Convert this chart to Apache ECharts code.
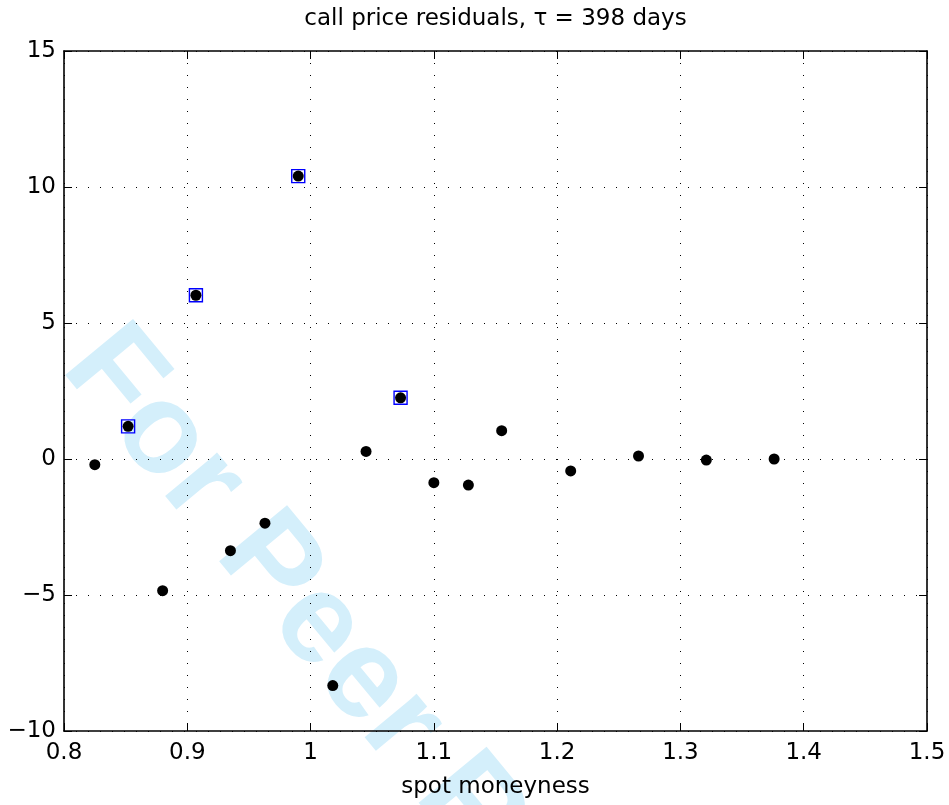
<!DOCTYPE html>
<html>
<head>
<meta charset="utf-8">
<script src="https://cdn.jsdelivr.net/npm/echarts@6/dist/echarts.min.js"></script>
<style>
  html, body { margin: 0; padding: 0; background: #fff; }
  #chart { width: 949px; height: 805px; }
</style>
</head>
<body>
<div id="chart"></div>
<script>
// ---- data ----
const moneyness = [0.825, 0.852, 0.880, 0.907, 0.935, 0.963, 0.990, 1.018, 1.045, 1.073, 1.100, 1.128, 1.155, 1.211, 1.266, 1.321, 1.376];
const residual  = [-0.21, 1.20, -4.84, 6.02, -3.37, -2.36, 10.40, -8.33, 0.28, 2.25, -0.87, -0.96, 1.04, -0.44, 0.11, -0.04, 0.00];
const flaggedIdx = [1, 3, 6, 9];   // points marked with blue squares
const xTicks = [0.8, 0.9, 1.0, 1.1, 1.2, 1.3, 1.4, 1.5];
const yTicks = [-10, -5, 0, 5, 10, 15];
const titleText = 'call price residuals, \u03c4 = 398 days';
const xLabel = 'spot moneyness';
const watermarkText = 'For Peer Review';

const FONT = 'DejaVu Sans';
const allPts = moneyness.map((x, i) => [x, residual[i]]);
const flaggedPts = flaggedIdx.map(i => [moneyness[i], residual[i]]);

const fmtX = v => String(Math.round(v * 10) / 10);
const fmtY = v => String(Math.round(v)).replace('-', '\u2212');

const chart = echarts.init(document.getElementById('chart'), null, { renderer: 'canvas' });

const tickStyle = { show: true, inside: true, length: 8, lineStyle: { color: '#000', width: 1 } };
const axisLineStyle = { show: true, onZero: false, lineStyle: { color: '#000', width: 1.6 } };
const gridLineStyle = { show: true, lineStyle: { color: '#000', width: 1, type: [1, 11] } };

chart.setOption({
  backgroundColor: '#ffffff',
  animation: false,
  title: {
    text: titleText,
    left: 495.5,
    textAlign: 'center',
    top: 8,
    padding: 0,
    textStyle: { fontFamily: FONT, fontSize: 23, fontWeight: 'normal', color: '#000' }
  },
  graphic: {
    elements: [{
      type: 'text',
      z: -10,
      x: 87, y: 346,
      rotation: -0.88,
      style: {
        text: watermarkText,
        font: 'bold 128px "Liberation Sans", Arial, sans-serif',
        fill: '#d4effb',
        textAlign: 'left',
        textVerticalAlign: 'middle'
      }
    }]
  },
  grid: { left: 64, right: 22, top: 51, bottom: 74, show: false, containLabel: false },
  xAxis: [{
    type: 'value', position: 'bottom',
    min: xTicks[0], max: xTicks[xTicks.length - 1], interval: 0.1,
    axisLine: axisLineStyle,
    axisTick: tickStyle,
    axisLabel: { formatter: fmtX, margin: 11, fontFamily: FONT, fontSize: 23, color: '#000', showMinLabel: true, showMaxLabel: true },
    splitLine: gridLineStyle,
    name: xLabel, nameLocation: 'middle', nameGap: 45,
    nameTextStyle: { fontFamily: FONT, fontSize: 23, color: '#000' }
  }, {
    type: 'value', position: 'top',
    min: xTicks[0], max: xTicks[xTicks.length - 1], interval: 0.1,
    axisLine: axisLineStyle,
    axisTick: tickStyle,
    axisLabel: { show: false },
    splitLine: { show: false }
  }],
  yAxis: [{
    type: 'value', position: 'left',
    min: yTicks[0], max: yTicks[yTicks.length - 1], interval: 5,
    axisLine: axisLineStyle,
    axisTick: tickStyle,
    axisLabel: { formatter: fmtY, margin: 8, fontFamily: FONT, fontSize: 23, color: '#000', showMinLabel: true, showMaxLabel: true },
    splitLine: gridLineStyle
  }, {
    type: 'value', position: 'right',
    min: yTicks[0], max: yTicks[yTicks.length - 1], interval: 5,
    axisLine: axisLineStyle,
    axisTick: tickStyle,
    axisLabel: { show: false },
    splitLine: { show: false }
  }],
  series: [{
    type: 'scatter',
    xAxisIndex: 0, yAxisIndex: 0,
    data: flaggedPts,
    symbol: 'rect',
    symbolSize: 13,
    z: 3,
    itemStyle: { color: 'rgba(0,0,0,0)', borderColor: '#0000ff', borderWidth: 1.4, opacity: 1 }
  }, {
    type: 'scatter',
    xAxisIndex: 0, yAxisIndex: 0,
    data: allPts,
    symbol: 'circle',
    symbolSize: 11,
    z: 4,
    itemStyle: { color: '#000', borderWidth: 0, opacity: 1 }
  }]
});
</script>
</body>
</html>
